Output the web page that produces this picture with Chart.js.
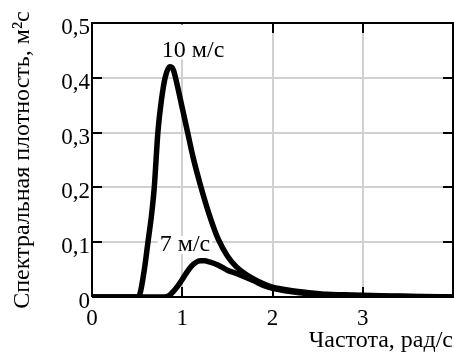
<!DOCTYPE html>
<html>
<head>
<meta charset="utf-8">
<script src="https://cdn.jsdelivr.net/npm/chart.js@4"></script>
<style>
  html, body { margin: 0; padding: 0; background: #fff; }
  #wrap { width: 454px; height: 355px; }
</style>
</head>
<body>
<div id="wrap"><canvas id="chart"></canvas></div>
<script>
// -- THE DATA --
const freq10 = [0, 0.5, 0.53, 0.58, 0.62, 0.66, 0.69, 0.73, 0.77, 0.81, 0.86, 0.9, 0.94, 1.0, 1.06, 1.12, 1.2, 1.3, 1.4, 1.5, 1.6, 1.7, 1.8, 1.9, 2.0, 2.2, 2.4, 2.6, 2.8, 3.0, 3.3, 3.6, 4.0];
const spec10 = [0, 0, 0.005, 0.05, 0.1, 0.15, 0.2, 0.3, 0.36, 0.4, 0.42, 0.415, 0.39, 0.345, 0.3, 0.255, 0.205, 0.15, 0.105, 0.075, 0.055, 0.042, 0.032, 0.024, 0.018, 0.012, 0.008, 0.005, 0.004, 0.003, 0.002, 0.001, 0];

const freq7 = [0, 0.8, 0.85, 0.9, 0.95, 1.0, 1.05, 1.1, 1.15, 1.2, 1.25, 1.3, 1.4, 1.5, 1.6, 1.7, 1.8, 1.9, 2.0, 2.2, 2.4, 2.6, 2.8, 3.0, 3.4, 4.0];
const spec7 = [0, 0, 0.002, 0.01, 0.02, 0.032, 0.045, 0.056, 0.063, 0.066, 0.066, 0.064, 0.058, 0.049, 0.043, 0.036, 0.029, 0.021, 0.016, 0.01, 0.006, 0.004, 0.003, 0.002, 0.001, 0];

const seriesLabels = ["10 м/с", "7 м/с"];
const xTicks = [0, 1, 2, 3];
const yTicks = [0, 0.1, 0.2, 0.3, 0.4, 0.5];

const FONT = "'Liberation Serif', 'Times New Roman', serif";

function toPoints(xs, ys) {
  return xs.map((x, i) => ({ x: x, y: ys[i] }));
}

// -- EXTRAS: frame, inner ticks, curve labels --
const framePlugin = {
  id: 'frame',
  afterDraw(chart) {
    const ctx = chart.ctx;
    const a = chart.chartArea;
    const xs = chart.scales.x, ys = chart.scales.y;
    const len = 10;
    ctx.save();
    ctx.strokeStyle = '#000';
    ctx.lineWidth = 2;
    ctx.beginPath();
    ctx.moveTo(a.left, a.bottom); ctx.lineTo(a.left, a.top); ctx.lineTo(a.right, a.top);
    ctx.lineTo(a.right, a.bottom); ctx.lineTo(a.left, a.bottom);
    xTicks.slice(1).forEach(v => {
      const px = Math.round(xs.getPixelForValue(v));
      ctx.moveTo(px, a.bottom); ctx.lineTo(px, a.bottom - len);
      ctx.moveTo(px, a.top); ctx.lineTo(px, a.top + len);
    });
    yTicks.slice(1, -1).forEach(v => {
      const py = Math.round(ys.getPixelForValue(v));
      ctx.moveTo(a.left, py); ctx.lineTo(a.left + len, py);
      ctx.moveTo(a.right, py); ctx.lineTo(a.right - len, py);
    });
    ctx.stroke();

    // curve labels on white boxes, anchored through the scales
    ctx.font = "24px " + FONT;
    ctx.textAlign = 'center';
    ctx.textBaseline = 'middle';
    const anchors = [[1.12, 0.45], [1.03, 0.095]];
    anchors.forEach((p, i) => {
      const px = xs.getPixelForValue(p[0]);
      const py = ys.getPixelForValue(p[1]);
      const w = ctx.measureText(seriesLabels[i]).width;
      const top = i === 0 ? a.top + 1.5 : py - 9;
      ctx.fillStyle = '#fff';
      ctx.fillRect(px - w / 2 - 2, top, w + 4, py + 9 - top);
      ctx.fillStyle = '#000';
      ctx.fillText(seriesLabels[i], px, py);
    });
    ctx.restore();
  }
};

// -- THE CHART --
const ctx = document.getElementById('chart').getContext('2d');
new Chart(ctx, {
  type: 'line',
  data: {
    datasets: [
      { label: seriesLabels[0], data: toPoints(freq10, spec10), borderColor: '#000', borderWidth: 5.5, pointRadius: 0, fill: false, cubicInterpolationMode: 'monotone' },
      { label: seriesLabels[1], data: toPoints(freq7, spec7), borderColor: '#000', borderWidth: 5.5, pointRadius: 0, fill: false, cubicInterpolationMode: 'monotone' }
    ]
  },
  options: {
    responsive: true,
    maintainAspectRatio: false,
    animation: false,
    devicePixelRatio: 1,
    layout: { padding: { top: 23, right: 1, left: 6, bottom: 0 } },
    plugins: { legend: { display: false }, tooltip: { enabled: false } },
    scales: {
      x: {
        type: 'linear', min: 0, max: 4,
        afterBuildTicks: s => { s.ticks = [0, 1, 2, 3, 4].map(v => ({ value: v })); },
        afterFit: s => { s.height = 58; s.paddingLeft = 0; s.paddingRight = 0; },
        ticks: {
          color: '#000', font: { family: FONT, size: 23 }, padding: 8, maxRotation: 0,
          callback: v => (xTicks.includes(v) ? String(v) : '')
        },
        grid: { color: '#d0d0d0', lineWidth: 2, drawTicks: false },
        border: { display: false },
        title: { display: true, text: 'Частота, рад/с', align: 'end', color: '#000', font: { family: FONT, size: 24 }, padding: { top: 0, bottom: 0 } }
      },
      y: {
        type: 'linear', min: 0, max: 0.5,
        afterBuildTicks: s => { s.ticks = yTicks.map(v => ({ value: v })); },
        afterFit: s => { s.width = 86; s.paddingTop = 0; s.paddingBottom = 0; },
        ticks: {
          color: '#000', font: { family: FONT, size: 23 }, padding: 2, labelOffset: 5,
          callback: v => (v === 0 ? '0' : v.toFixed(1).replace('.', ','))
        },
        grid: { color: '#d0d0d0', lineWidth: 2, drawTicks: false },
        border: { display: false },
        title: { display: true, text: 'Спектральная плотность, м²с', color: '#000', font: { family: FONT, size: 24 }, padding: { top: 2, bottom: 0 } }
      }
    }
  },
  plugins: [framePlugin]
});
</script>
</body>
</html>
